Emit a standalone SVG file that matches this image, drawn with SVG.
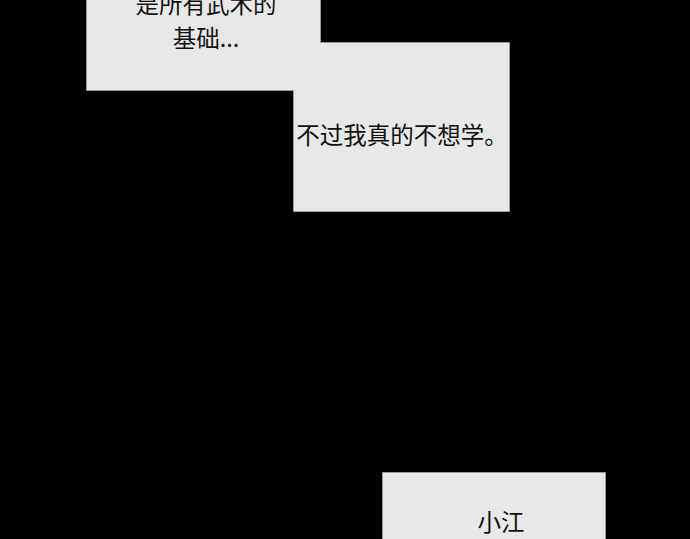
<svg xmlns="http://www.w3.org/2000/svg" width="690" height="539" viewBox="0 0 690 539">
<style>
.box{fill:#e8e8e8;stroke:#9a9a9a;stroke-width:1}
.t{font-family:"Noto Sans CJK SC","Noto Sans",sans-serif;font-size:23.5px;fill:#111;text-anchor:middle}
</style>
<rect width="690" height="539" fill="#000"/>
<g id="box1"><path class="box" d="M86.5,-1 H320.5 V42.5 H509.5 V211.5 H293.5 V90.5 H86.5 Z"/>
<text class="t" x="206" y="13">是所有武术的</text>
<text class="t" x="206" y="47">基础...</text></g>
<g id="box2">
<text class="t" x="402" y="144">不过我真的不想学。</text></g>
<g id="box3"><rect class="box" x="382.5" y="472.5" width="223" height="70"/>
<text class="t" x="501" y="531">小江</text></g>
<g id="connectors"/>
</svg>
